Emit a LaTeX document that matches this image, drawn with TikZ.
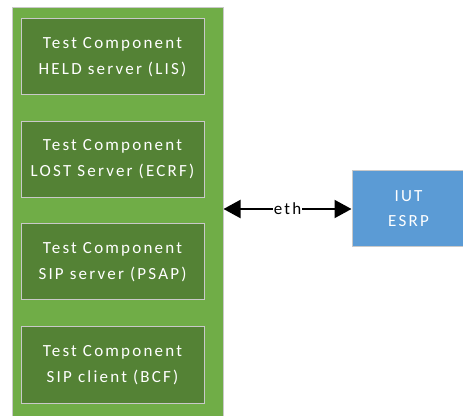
\documentclass[tikz,border=0pt]{standalone}
\usepackage{fontspec}
\setmainfont{Carlito}[LetterSpace=13]
\usetikzlibrary{arrows.meta}
\definecolor{outergreen}{HTML}{70AD47}
\definecolor{innergreen}{HTML}{548235}
\definecolor{iutblue}{HTML}{5B9BD5}
\definecolor{edgegray}{HTML}{C9C9C9}
\tikzset{
  x=1pt, y=1pt,
  outerbox/.style={draw=edgegray, line width=1pt, fill=outergreen, minimum width=211pt, minimum height=412pt, inner sep=0pt},
  compbox/.style={draw=edgegray, line width=1pt, fill=innergreen, minimum width=183pt, minimum height=76pt, text=white, align=center, font=\fontsize{17}{26}\selectfont, inner sep=0pt},
  iutbox/.style={draw=edgegray, line width=1pt, fill=iutblue, minimum width=113pt, minimum height=76pt, text=white, align=center, font=\fontsize{17}{25}\selectfont, inner sep=0pt},
  link/.style={line width=2pt, {Triangle[length=17pt,width=18pt]}-{Triangle[length=17pt,width=18pt]}},
  linklabel/.style={fill=white, inner sep=1pt, font=\fontsize{17}{20}\selectfont}
}
\begin{document}
\begin{tikzpicture}
\clip (0,0) rectangle (463,415);
\fill[white] (0,0) rectangle (463,415);
\node[outerbox] (outer) at (117.5,201) {};
\node[compbox] (held) at (112.5,358) {Test Component\\HELD server (LIS)};
\node[compbox] (lost) at (112.5,255.5) {Test Component\\LOST Server (ECRF)};
\node[compbox] (psap) at (112.5,153) {Test Component\\SIP server (PSAP)};
\node[compbox] (bcf) at (112.5,50) {Test Component\\SIP client (BCF)};
\node[iutbox] (iut) at (408.5,206) {IUT\\ESRP};
\coordinate (linkstart) at (outer.east |- iut.west);
\draw[link] (linkstart) -- node[linklabel] (eth) {eth} (iut.west);
\end{tikzpicture}
\end{document}
